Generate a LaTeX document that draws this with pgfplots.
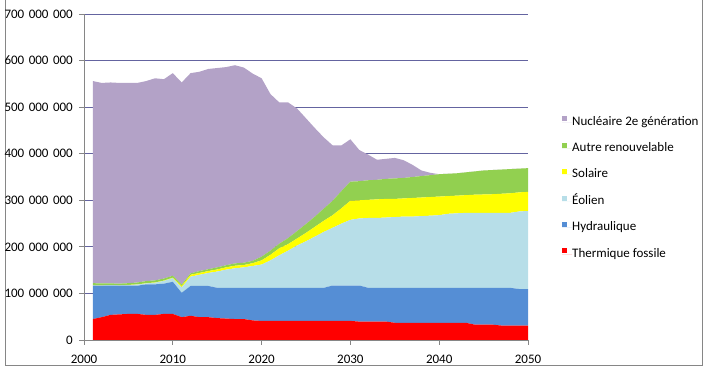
\documentclass[border=0pt]{standalone}
\usepackage{pgfplots}
\pgfplotsset{compat=1.18}
\usepackage{pgfplotstable}
\usepackage{fontspec}
\setmainfont{Carlito}
\definecolor{nuc}{HTML}{B3A2C7}
\definecolor{autre}{HTML}{92D050}
\definecolor{sol}{HTML}{FFFF00}
\definecolor{eol}{HTML}{B7DEE8}
\definecolor{hyd}{HTML}{558ED5}
\definecolor{therm}{HTML}{FF0000}
\definecolor{gridcol}{HTML}{6464A0}
\definecolor{axgray}{HTML}{868686}
\newcommand\gsp{\hspace{4.5bp}}
% values in millions
\pgfplotstableread{
year T H E S A N
2001 45 72 0.3 0.2 4.5 434
2002 49 68 0.5 0.2 3.8 430.5
2003 54 63 0.8 0.2 3.5 431.5
2004 55 61.5 1 0.2 3.3 431
2005 56 60.5 1.5 0.3 3.7 430
2006 56 60.5 2.5 0.4 4.1 428.5
2007 54 65.5 2 0.5 4.5 429.5
2008 54 65.5 3.5 0.6 4.4 434
2009 56 65 6 0.7 4.3 428
2010 56 69 8 1 4 435
2011 49 52.5 11.5 3 3 434
2012 52 64 20 4 3 430
2013 49 67 24 4 4 428
2014 49 67 28 4 4 430
2015 47 65 35 4.5 4.5 428
2016 46 66 39 5 4.5 425.5
2017 45 67 42 5.5 5 425.5
2018 45 67 44 5 5 419
2019 42 70 47 6 5 402
2020 41 71 50 9 8 383
2021 41 71 59 12 9 336
2022 41 71 70 15 10 303
2023 41 71 80 14 13 291
2024 41 71 91 15 16 263
2025 41 71 100 18 19 227
2026 41 71 110 21 22 190
2027 41 71 120 24 26 153
2028 41 76 124 27 31 119
2029 41 76 133 33 37 98
2030 41 76 141 41 41 91
2031 39.5 77.5 144 39 41 67
2032 39.5 72.5 150 39 42 55
2033 39.5 72.5 150 40 42 43
2034 39.5 72.5 151 40 43 43
2035 37 75 152 39 44 44
2036 37 75 153 39 44 38
2037 37 75 153 40 45 26
2038 37 75 154 40 46 12
2039 37 75 155 40 47 5
2040 37 75 156 40 48 0
2041 37 75 159 38 48 0
2042 37 75 160 38 48 0
2043 37 75 161 38 49 0
2044 33 79 161 39 50 0
2045 33 79 161 39.5 51.5 0
2046 33 79 161 40 52 0
2047 31 81 161 41 52 0
2048 31 81 161 42 52 0
2049 31 78.5 166.5 41 51 0
2050 31 78.5 167.5 41 51 0
}\data

\begin{document}
\fontsize{13bp}{15bp}\selectfont
\begin{tikzpicture}
\path[use as bounding box] (0,0) rectangle (707bp,374bp);
\draw[axgray, line width=0.75bp] (5.5bp,375bp) -- (5.5bp,8.5bp) -- (702.5bp,8.5bp) -- (702.5bp,375bp);
\begin{axis}[
  at={(84bp,34bp)}, anchor=south west,
  width=444bp, height=326bp, scale only axis,
  xmin=2000, xmax=2050, ymin=0, ymax=700,
  stack plots=y,
  axis x line*=bottom, axis y line*=left,
  axis line style={axgray, line width=0.75bp, -},
  tick style={axgray, line width=0.75bp},
  tick align=outside, major tick length=5bp,
  xtick={2000,2010,2020,2030,2040,2050},
  xticklabels={2000,2010,2020,2030,2040,2050},
  ytick={0,100,200,300,400,500,600,700},
  yticklabels={0,100\gsp000\gsp000,200\gsp000\gsp000,300\gsp000\gsp000,400\gsp000\gsp000,500\gsp000\gsp000,600\gsp000\gsp000,700\gsp000\gsp000},
  ymajorgrids, major grid style={gridcol, line width=0.75bp},
  xticklabel style={inner sep=0pt, anchor=center, yshift=-14bp},
  yticklabel style={inner sep=0pt, anchor=east, xshift=-6bp},
  reverse legend,
  legend cell align=left,
  legend style={at={(1.0766,0.466)}, anchor=west, draw=none, fill=none, inner sep=0pt, row sep=14.4bp,
    nodes={inner sep=0pt, text height=9bp, text depth=3bp}, column sep=0pt},
  legend image code/.code={\fill[#1] (0bp,0.7bp) rectangle (5bp,5.7bp); \path (0bp,0bp) -- (10bp,0bp);},
]
\addplot[fill=therm, draw=none] table[x=year,y=T]{\data} \closedcycle;
\addlegendentry{Thermique fossile}
\addplot[fill=hyd, draw=none] table[x=year,y=H]{\data} \closedcycle;
\addlegendentry{Hydraulique}
\addplot[fill=eol, draw=none] table[x=year,y=E]{\data} \closedcycle;
\addlegendentry{Éolien}
\addplot[fill=sol, draw=none] table[x=year,y=S]{\data} \closedcycle;
\addlegendentry{Solaire}
\addplot[fill=autre, draw=none] table[x=year,y=A]{\data} \closedcycle;
\addlegendentry{Autre renouvelable}
\addplot[fill=nuc, draw=none] table[x=year,y=N]{\data} \closedcycle;
\addlegendentry{Nucléaire 2e génération}
\end{axis}
\end{tikzpicture}
\end{document}
